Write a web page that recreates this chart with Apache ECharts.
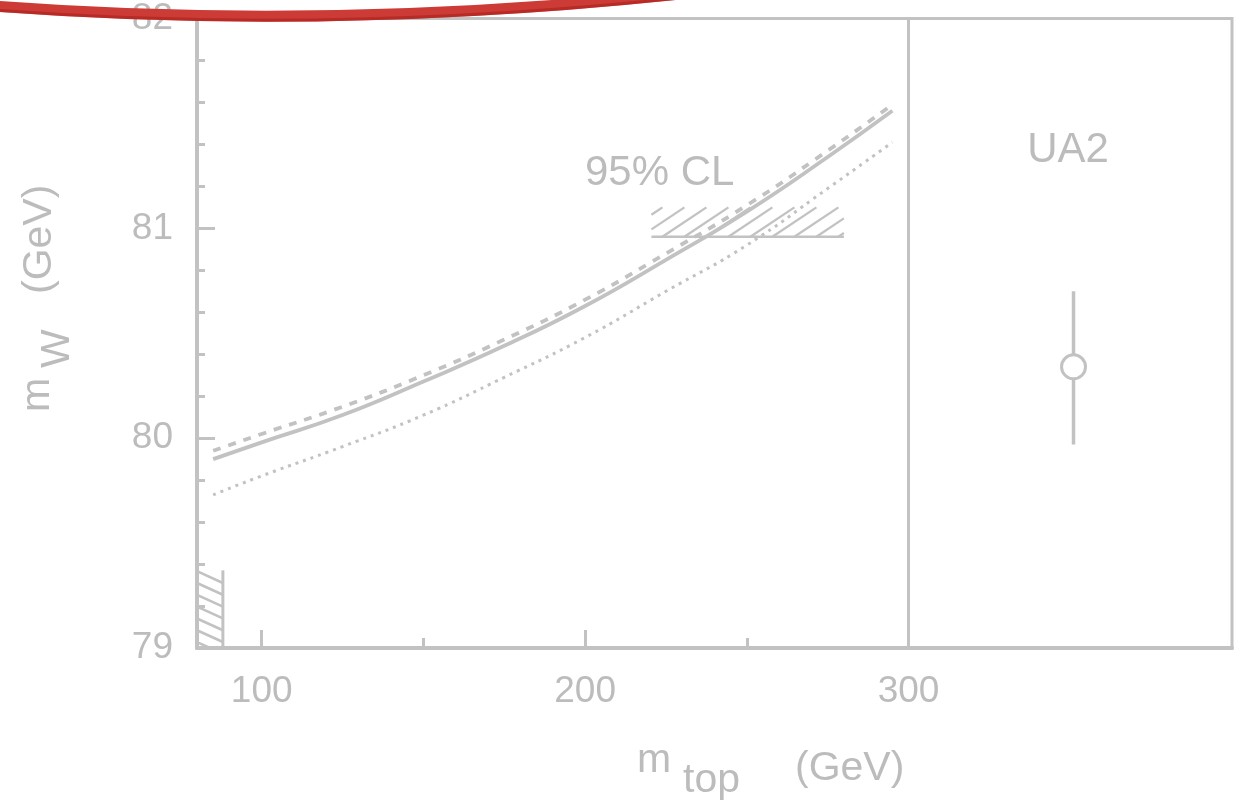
<!DOCTYPE html>
<html><head><meta charset="utf-8">
<script src="https://cdn.jsdelivr.net/npm/echarts@6/dist/echarts.min.js"></script>
<style>html,body{margin:0;padding:0;background:#fff}#chart{width:1244px;height:809px}</style>
</head><body><div id="chart"></div>
<script>
// ---- data ----
const mTop      = [85, 100, 125, 150, 175, 200, 225, 250, 275, 295];
const mWSolid   = [79.90, 79.98, 80.11, 80.27, 80.44, 80.63, 80.85, 81.08, 81.34, 81.56];
const mWDashed  = [79.94, 80.02, 80.15, 80.30, 80.47, 80.66, 80.88, 81.11, 81.37, 81.59];
const mWDotted  = [79.73, 79.82, 79.96, 80.11, 80.29, 80.48, 80.70, 80.92, 81.19, 81.41];
const ua2Point  = [351, 80.34];
const ua2ErrUp  = 0.36;
const ua2ErrDown = 0.37;
const clBand    = [220.5, 280, 80.96, 81.10];  // m_top from, to, m_W low, high
const lowBand   = [80, 88, 79, 79.37];
const xMajorTicks = [100, 200];
const xMinorTicks = [150, 250];
const xTickLabels = [100, 200, 300];
const panelDivider = 300;
const xRange = [80, 400];
const yRange = [79, 82];
const clText = '95% CL';
const ua2Text = 'UA2';

// ---- style ----
const GRAY = '#c2c2c2';
const TXT = '#bcbcbc';
const FONT = '"Liberation Sans", Arial, Helvetica, sans-serif';

const zip = (xs, ys) => xs.map((x, i) => [x, ys[i]]);

function hatchRender(k, step, edge, lw) {
  return function (params, api) {
    const p0 = api.coord([api.value(0), api.value(2)]);
    const p1 = api.coord([api.value(1), api.value(3)]);
    const left = Math.min(p0[0], p1[0]), right = Math.max(p0[0], p1[0]);
    const top = Math.min(p0[1], p1[1]), bottom = Math.max(p0[1], p1[1]);
    const h = bottom - top;
    const span = k * h;
    const start = k > 0 ? left - span : left;
    const end = k > 0 ? right : right - span;
    const children = [];
    for (let bx = start + step * 0.5; bx <= end; bx += step) {
      let tlo, thi;
      if (k > 0) { tlo = Math.max(0, (left - bx) / span); thi = Math.min(1, (right - bx) / span); }
      else { tlo = Math.max(0, (right - bx) / span); thi = Math.min(1, (left - bx) / span); }
      if (thi - tlo > 0.03) {
        children.push({
          type: 'line',
          shape: { x1: bx + span * tlo, y1: bottom - h * tlo, x2: bx + span * thi, y2: bottom - h * thi },
          style: { stroke: GRAY, lineWidth: lw }
        });
      }
    }
    if (edge === 'bottom') {
      children.push({ type: 'line', shape: { x1: left, y1: bottom, x2: right, y2: bottom }, style: { stroke: GRAY, lineWidth: 2.5 } });
    } else if (edge === 'right') {
      children.push({ type: 'line', shape: { x1: right, y1: top, x2: right, y2: bottom }, style: { stroke: GRAY, lineWidth: 3 } });
    }
    return { type: 'group', children };
  };
}

const chart = echarts.init(document.getElementById('chart'), null, { renderer: 'canvas' });

const option = {
  backgroundColor: '#ffffff',
  animation: false,
  textStyle: { fontFamily: FONT },
  grid: {
    left: 197, right: 12, top: 18, bottom: 161,
    show: true, borderColor: GRAY, borderWidth: 3, backgroundColor: 'transparent'
  },
  xAxis: [
    {
      type: 'value', min: xRange[0], max: xRange[1], position: 'bottom',
      axisLine: { show: true, onZero: false, lineStyle: { color: GRAY, width: 4 } },
      axisTick: { show: true, inside: true, length: 18, customValues: xMajorTicks, lineStyle: { color: GRAY, width: 3 } },
      axisLabel: { show: true, customValues: xTickLabels, fontSize: 37, color: TXT, margin: 25, fontFamily: FONT },
      splitLine: { show: false }
    },
    {
      type: 'value', min: xRange[0], max: xRange[1], position: 'bottom',
      axisLine: { show: false },
      axisTick: { show: true, inside: true, length: 10, customValues: xMinorTicks, lineStyle: { color: GRAY, width: 3 } },
      axisLabel: { show: false },
      splitLine: { show: false }
    }
  ],
  yAxis: {
    type: 'value', min: yRange[0], max: yRange[1], interval: 1,
    axisLine: { show: true, onZero: false, lineStyle: { color: GRAY, width: 4 } },
    axisTick: { show: true, inside: true, length: 18, lineStyle: { color: GRAY, width: 3 } },
    minorTick: { show: true, splitNumber: 5, length: 8, lineStyle: { color: GRAY, width: 3 } },
    axisLabel: { fontSize: 37, color: TXT, margin: 24, fontFamily: FONT },
    splitLine: { show: false }
  },
  series: [
    {
      type: 'custom', name: 'lowband', coordinateSystem: 'cartesian2d', clip: false,
      renderItem: hatchRender(-2.2, 26, 'right', 2.6),
      encode: { x: [0, 1], y: [2, 3] },
      data: [lowBand], z: 3
    },
    {
      type: 'custom', name: 'clband', coordinateSystem: 'cartesian2d', clip: false,
      renderItem: hatchRender(1.5, 22, 'bottom', 2.3),
      encode: { x: [0, 1], y: [2, 3] },
      data: [clBand], z: 3
    },
    {
      type: 'line', name: 'solid', data: zip(mTop, mWSolid), smooth: true, showSymbol: false,
      lineStyle: { color: GRAY, width: 3.8 }, z: 4,
      markLine: {
        silent: true, symbol: ['none', 'none'], label: { show: false },
        lineStyle: { color: GRAY, width: 3, type: 'solid' },
        data: [{ xAxis: panelDivider }]
      }
    },
    {
      type: 'line', name: 'dashed', data: zip(mTop, mWDashed), smooth: true, showSymbol: false,
      lineStyle: { color: GRAY, width: 3.8, type: [8, 8] }, z: 4
    },
    {
      type: 'line', name: 'dotted', data: zip(mTop, mWDotted), smooth: true, showSymbol: false,
      lineStyle: { color: GRAY, width: 3, type: [3, 5] }, z: 4
    },
    {
      type: 'line', name: 'ua2err',
      data: [[ua2Point[0], ua2Point[1] - ua2ErrDown], [ua2Point[0], ua2Point[1] + ua2ErrUp]],
      showSymbol: false, lineStyle: { color: GRAY, width: 3.5 }, z: 4
    },
    {
      type: 'scatter', name: 'ua2', data: [ua2Point], symbol: 'circle', symbolSize: 24,
      itemStyle: { color: '#ffffff', borderColor: GRAY, borderWidth: 3, opacity: 1 }, z: 6
    }
  ],
  graphic: [
    { type: 'text', left: 585, top: 152, z: 50, style: { text: clText, fill: TXT, font: '42px ' + FONT } },
    { type: 'text', x: 1068, y: 150, z: 50, style: { text: ua2Text, fill: TXT, font: '42px ' + FONT, align: 'center', verticalAlign: 'middle' } },
    // x axis name: m_top (GeV)
    { type: 'text', x: 637, y: 761, z: 50, style: { text: 'm', fill: TXT, font: '41px ' + FONT, align: 'left', verticalAlign: 'middle' } },
    { type: 'text', x: 683, y: 781, z: 50, style: { text: 'top', fill: TXT, font: '41px ' + FONT, align: 'left', verticalAlign: 'middle' } },
    { type: 'text', x: 795, y: 769, z: 50, style: { text: '(GeV)', fill: TXT, font: '41px ' + FONT, align: 'left', verticalAlign: 'middle' } },
    // y axis name: m_W (GeV)
    { type: 'text', x: 38, y: 412, rotation: Math.PI / 2, z: 50, style: { text: 'm', fill: TXT, font: '41px ' + FONT, align: 'left', verticalAlign: 'middle' } },
    { type: 'text', x: 58, y: 368, rotation: Math.PI / 2, z: 50, style: { text: 'W', fill: TXT, font: '41px ' + FONT, align: 'left', verticalAlign: 'middle' } },
    { type: 'text', x: 40, y: 294, rotation: Math.PI / 2, z: 50, style: { text: '(GeV)', fill: TXT, font: '41px ' + FONT, align: 'left', verticalAlign: 'middle' } },
    // red hand-drawn stroke across the top
    { type: 'bezierCurve', z: 100, shape: { x1: -20, y1: 5, x2: 680, y2: -6, cpx1: 320, cpy1: 32 },
      style: { stroke: '#cc3b35', lineWidth: 11, fill: null, lineCap: 'round' } },
    { type: 'bezierCurve', z: 101, shape: { x1: -20, y1: 9, x2: 680, y2: -2, cpx1: 320, cpy1: 36 },
      style: { stroke: '#a8201b', lineWidth: 3, fill: null, opacity: 0.6 } }
  ]
};
chart.setOption(option);
</script>
</body></html>
